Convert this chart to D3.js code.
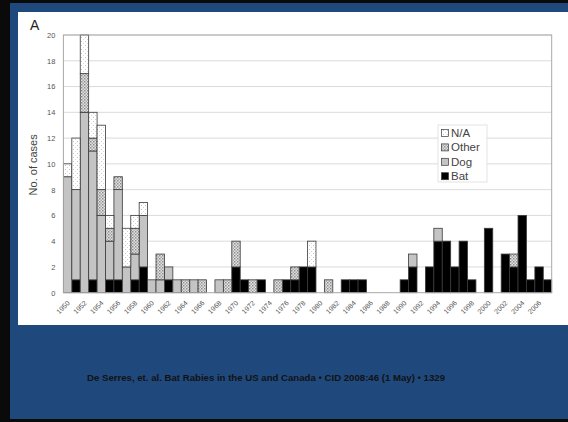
<!DOCTYPE html>
<html><head><meta charset="utf-8">
<script src="https://cdn.jsdelivr.net/npm/d3@7"></script>
<style>body{margin:0;background:#000;}svg{display:block;}</style>
</head><body>
<script>
// ---- data ----
const years = d3.range(1950, 2008);
const bat = [0,1,0,1,0,1,1,0,1,2, 0,0,1,0,0,0,0,0,0,0, 2,1,0,1,0,0,1,1,2,2, 0,0,0,1,1,1,0,0,0,0, 1,2,0,2,4,4,2,4,1,0, 5,0,3,2,6,1,2,1];
const dog = [9,7,14,10,6,3,7,2,2,4, 1,1,1,1,0,1,0,0,1,0, 0,0,0,0,0,0,0,0,0,0, 0,0,0,0,0,0,0,0,0,0, 0,1,0,0,1,0,0,0,0,0, 0,0,0,0,0,0,0,0];
const other = [0,0,3,1,2,1,1,0,2,0, 0,2,0,0,1,0,1,0,0,1, 2,0,1,0,0,1,0,1,0,0, 0,1,0,0,0,0,0,0,0,0, 0,0,0,0,0,0,0,0,0,0, 0,0,0,1,0,0,0,0];
const na = [1,4,3,2,5,1,0,3,1,1, 0,0,0,0,0,0,0,0,0,0, 0,0,0,0,0,0,0,0,0,2, 0,0,0,0,0,0,0,0,0,0, 0,0,0,0,0,0,0,0,0,0, 0,0,0,0,0,0,0,0];
const seriesNames = ["Bat","Dog","Other","N/A"];
const yTicks = [0,2,4,6,8,10,12,14,16,18,20];
const xLabels = d3.range(1950, 2007, 2);
const caption = "De Serres, et. al. Bat Rabies in the US and Canada \u2022 CID 2008:46 (1 May) \u2022 1329";

(function () {
const W = 568, H = 422;
const svg = d3.select("body").append("svg").attr("width", W).attr("height", H);

// slide background
svg.append("rect").attr("width", W).attr("height", H).attr("fill", "#0a0a0a");
svg.append("rect").attr("x", 10).attr("y", 3).attr("width", W - 10).attr("height", 416).attr("fill", "#1F497D");
svg.append("rect").attr("x", 18).attr("y", 12).attr("width", W - 18).attr("height", 313).attr("fill", "#ffffff");

// patterns
const defs = svg.append("defs");
const pOther = defs.append("pattern").attr("id", "pOther").attr("patternUnits", "userSpaceOnUse").attr("width", 3).attr("height", 3);
pOther.append("rect").attr("width", 3).attr("height", 3).attr("fill", "#e4e4e4");
pOther.append("rect").attr("x", 0).attr("y", 0).attr("width", 1.5).attr("height", 1.5).attr("fill", "#8c8c8c");
pOther.append("rect").attr("x", 1.5).attr("y", 1.5).attr("width", 1.5).attr("height", 1.5).attr("fill", "#a8a8a8");
const pNA = defs.append("pattern").attr("id", "pNA").attr("patternUnits", "userSpaceOnUse").attr("width", 4).attr("height", 4);
pNA.append("rect").attr("width", 4).attr("height", 4).attr("fill", "#ffffff");
pNA.append("rect").attr("x", 1).attr("y", 1).attr("width", 1).attr("height", 1).attr("fill", "#c4c4c4");
pNA.append("rect").attr("x", 3).attr("y", 3).attr("width", 1).attr("height", 1).attr("fill", "#d8d8d8");

const fills = {"Bat": "#000000", "Dog": "#c4c4c4", "Other": "url(#pOther)", "N/A": "url(#pNA)"};

// scales
const pl = 63.4, pr = 551.7, pt = 35, pb = 292.7;
const x = d3.scaleBand().domain(years).range([pl, pr]).padding(0);
const y = d3.scaleLinear().domain([0, 20]).range([pb, pt]);

// gridlines
svg.append("g").selectAll("line").data(yTicks.filter(d => d > 0)).join("line")
  .attr("x1", pl).attr("x2", pr).attr("y1", d => y(d)).attr("y2", d => y(d))
  .attr("stroke", "#d6d6d6").attr("stroke-width", 0.9);

// stacked data
const table = years.map((yr, i) => ({year: yr, "Bat": bat[i], "Dog": dog[i], "Other": other[i], "N/A": na[i]}));
const stack = d3.stack().keys(seriesNames)(table);

svg.append("g").selectAll("g").data(stack).join("g")
  .attr("fill", d => fills[d.key])
  .selectAll("rect").data(d => d.filter(s => s[1] - s[0] > 0)).join("rect")
  .attr("x", d => x(d.data.year)).attr("width", x.bandwidth())
  .attr("y", d => y(d[1])).attr("height", d => y(d[0]) - y(d[1]))
  .attr("stroke", "#3a3a3a").attr("stroke-width", 0.8);

// plot frame
svg.append("rect").attr("x", pl).attr("y", pt).attr("width", pr - pl).attr("height", pb - pt)
  .attr("fill", "none").attr("stroke", "#a8a8a8").attr("stroke-width", 1);

// y axis
const yAxis = svg.append("g").attr("transform", `translate(${pl},0)`)
  .call(d3.axisLeft(y).tickValues(yTicks).tickSize(0).tickPadding(8));
yAxis.select(".domain").remove();
yAxis.selectAll("text").attr("font-family", "Liberation Sans, Arial, sans-serif").attr("font-size", 7.5).attr("fill", "#555");

// x axis
const xAxis = svg.append("g").attr("transform", `translate(0,${pb})`)
  .call(d3.axisBottom(x).tickValues(xLabels).tickSize(0).tickPadding(0));
xAxis.select(".domain").remove();
xAxis.selectAll("text")
  .attr("font-family", "Liberation Sans, Arial, sans-serif").attr("font-size", 7).attr("fill", "#555")
  .attr("text-anchor", "end").attr("dy", "0.35em")
  .attr("transform", "translate(1,9) rotate(-45)");

// axis title
svg.append("text").attr("transform", `translate(37,${(pt + pb) / 2 + 1}) rotate(-90)`)
  .attr("text-anchor", "middle").attr("font-family", "Liberation Sans, Arial, sans-serif")
  .attr("font-size", 11).attr("fill", "#444").text("No. of cases");

// panel label
svg.append("text").attr("x", 30).attr("y", 30).attr("font-family", "Liberation Sans, Arial, sans-serif")
  .attr("font-size", 14).attr("fill", "#222").text("A");

// legend
const lg = svg.append("g").attr("transform", "translate(438,125)");
lg.append("rect").attr("width", 49).attr("height", 57).attr("fill", "#fff").attr("stroke", "#dcdcdc").attr("stroke-width", 0.8);
const legendItems = ["N/A", "Other", "Dog", "Bat"];
legendItems.forEach((k, i) => {
  const gy = 8 + i * 14.4;
  lg.append("rect").attr("x", 3.5).attr("y", gy - 3.5).attr("width", 7).attr("height", 7)
    .attr("fill", fills[k]).attr("stroke", "#3a3a3a").attr("stroke-width", 0.7);
  lg.append("text").attr("x", 13).attr("y", gy + 4).attr("font-family", "Liberation Sans, Arial, sans-serif")
    .attr("font-size", 11.5).attr("fill", "#444").text(k);
});

// caption
svg.append("text").attr("x", 87).attr("y", 381).attr("font-family", "Liberation Sans, Arial, sans-serif")
  .attr("font-weight", "bold").attr("font-size", 8.5).attr("fill", "#121212")
  .attr("textLength", 358).attr("lengthAdjust", "spacingAndGlyphs").text(caption);
})();
</script>
</body></html>
